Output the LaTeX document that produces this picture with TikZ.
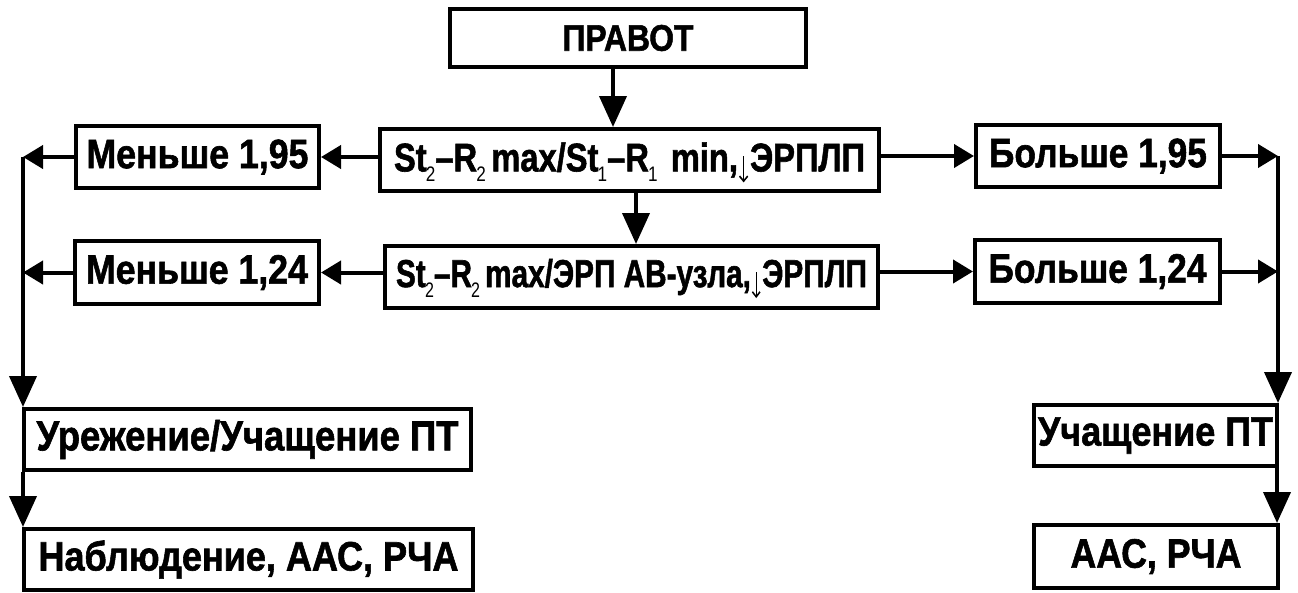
\documentclass[tikz,border=0pt]{standalone}
\usepackage{fontspec}
\setmainfont{Liberation Sans}[BoldFeatures={FakeBold=1.5}]
\usepackage{graphicx}
\usetikzlibrary{arrows.meta}
% bold text at a given size, stretched horizontally to a given width
\newsavebox\fitbox
\newlength\fitlen
\newcommand\fitw[3]{%
  \sbox\fitbox{\fontsize{#2pt}{#2pt}\selectfont\bfseries #3}%
  \setlength\fitlen{\wd\fitbox}%
  \scalebox{\fpeval{#1/\fitlen}}[1]{\usebox\fitbox}}
% low index digit that does not change the line's depth
\newcommand\idx[1]{\kern-1pt\raisebox{-10pt}[0pt][0pt]{\fontsize{21pt}{21pt}\selectfont\mdseries #1}}
% thin down arrow hanging below the baseline
\newcommand\dnarr{\hspace{1pt}\smash{\tikz[baseline=0pt]\draw[line width=1.8pt,
  -{Straight Barb[length=5pt,width=10pt,line width=1.8pt]}] (0pt,15pt) -- (0pt,-11pt);}\hspace{2pt}}
\tikzset{
  box/.style={draw, line width=4pt, inner sep=0pt},
  harr/.style={line width=4pt, -{Triangle[length=20pt,width=23pt]}},
  varr/.style={line width=4pt, -{Triangle[length=31pt,width=27pt]}},
}
\begin{document}
\begin{tikzpicture}[x=1pt,y=-1pt]
\useasboundingbox (0,0) rectangle (1298,592);

% centre column
\node[box, minimum width=356pt, minimum height=58pt] (prav) at (628,38)
  {\fitw{131}{37}{ПРАВОТ}};
\node[box, minimum width=499pt, minimum height=62pt] (q1) at (629.5,160)
  {\fitw{471}{40}{St\idx{2}–R\idx{2}\,max/St\idx{1}–R\idx{1}\hspace{5pt} min,\dnarr ЭРПЛП}};
\node[box, minimum width=493pt, minimum height=62pt] (q2) at (631.5,277)
  {\fitw{471}{39}{St\idx{2}–R\idx{2}\,max/ЭРП АВ-узла,\dnarr ЭРПЛП}};

% left branch
\node[box, minimum width=243pt, minimum height=62pt] (l1) at (197.5,157)
  {\fitw{222}{41}{Меньше 1,95}};
\node[box, minimum width=244pt, minimum height=63pt] (l2) at (197,272.5)
  {\fitw{222}{41}{Меньше 1,24}};
\node[box, minimum width=447pt, minimum height=61pt] (lo1) at (247.5,439.5)
  {\fitw{422}{42}{Урежение/Учащение ПТ}};
\node[box, minimum width=449pt, minimum height=61pt] (lo2) at (248.5,559.5)
  {\fitw{420}{41}{Наблюдение, ААС, РЧА}};

% right branch
\node[box, minimum width=244pt, minimum height=62pt] (r1) at (1098,156)
  {\fitw{218}{41}{Больше 1,95}};
\node[box, minimum width=245pt, minimum height=63pt] (r2) at (1097.5,271.5)
  {\fitw{218}{41}{Больше 1,24}};
\node[box, minimum width=243pt, minimum height=61pt] (ro1) at (1155.5,435.5)
  {\fitw{235}{41}{Учащение ПТ}};
\node[box, minimum width=244pt, minimum height=63pt] (ro2) at (1156,556.5)
  {\fitw{171}{41}{ААС, РЧА}};

% collector lines
\coordinate (lv) at (23,0);
\coordinate (rv) at (1278,0);

% connectors
\draw[varr] ([xshift=-15pt]prav.south) -- ([xshift=-15pt]prav.south |- q1.north);
\draw[varr] ([xshift=6.5pt]q1.south) -- ([xshift=6.5pt]q1.south |- q2.north);

\draw[harr] (q1.west |- l1.east) -- (l1.east);
\draw[harr] (q2.west |- l2.east) -- (l2.east);
\draw[harr] (q1.east |- r1.west) -- (r1.west);
\draw[harr] (q2.east |- r2.west) -- (r2.west);

\draw[harr] (l1.west) -- (l1.west -| lv);
\draw[harr] (l2.west) -- (l2.west -| lv);
\draw[harr] (r1.east) -- (r1.east -| rv);
\draw[harr] (r2.east) -- (r2.east -| rv);

\draw[varr] (l1.west -| lv) -- (lo1.north -| lv);
\draw[varr] (lo1.south -| lv) -- (lo2.north -| lv);
\draw[varr] (r1.east -| rv) -- (ro1.north -| rv);
\draw[varr] ([xshift=-1pt]ro1.south -| rv) -- ([xshift=-1pt]ro2.north -| rv);
\end{tikzpicture}
\end{document}
